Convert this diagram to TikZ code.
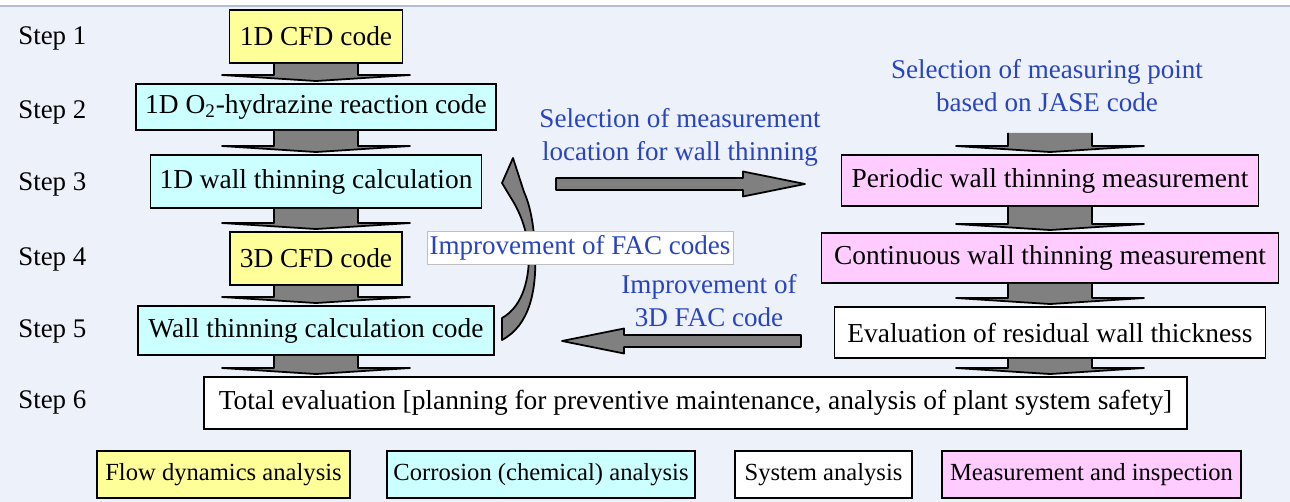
\documentclass[tikz,border=0pt]{standalone}
\usepackage{fontspec}
\setmainfont{Liberation Serif}
\usetikzlibrary{calc}
\definecolor{bgblue}{RGB}{237,241,249}
\definecolor{rimblue}{RGB}{176,190,214}
\definecolor{flowyel}{RGB}{255,255,153}
\definecolor{corrcyan}{RGB}{204,255,255}
\definecolor{measpink}{RGB}{255,204,255}
\definecolor{noteblue}{RGB}{40,68,192}
\definecolor{arrgray}{RGB}{128,128,128}
\tikzset{
  box/.style={draw=black, line width=1.1pt, inner sep=0pt, font=\fontsize{15.6}{18}\selectfont},
  flowbox/.style={box, fill=flowyel},
  corrbox/.style={box, fill=corrcyan},
  sysbox/.style={box, fill=white},
  measbox/.style={box, fill=measpink},
  keybox/.style={box, minimum height=9.4mm, font=\fontsize{14}{16}\selectfont},
  steplbl/.style={anchor=west, inner sep=0pt, font=\fontsize{15.3}{18}\selectfont},
  note/.style={text=noteblue, align=center, inner sep=0pt, font=\fontsize{15.4}{18.7}\selectfont},
  blockarrow/.style={fill=arrgray, draw=black, line width=1pt, line join=round}
}
% wide flat block arrow pointing down, #1 = top of shaft, #2 = tip
\newcommand\flowdown[2]{%
  \filldraw[blockarrow] let \p1=(#1), \p2=(#2) in
    (\x1-8.4mm,\y1) -- (\x1-8.4mm,\y2+1.6mm) -- (\x1-18.8mm,\y2+1.6mm) -- (\x1,\y2+0.4mm)
    -- (\x1+18.8mm,\y2+1.6mm) -- (\x1+8.4mm,\y2+1.6mm) -- (\x1+8.4mm,\y1);}
% horizontal block arrow, #1 = tail, #2 = tip
\newcommand\flowside[2]{%
  \filldraw[blockarrow] let \p1=(#1), \p2=(#2), \n1={sign(\x2-\x1)} in
    (\x1,\y1-1.2mm) -- (\x2-\n1*12.4mm,\y1-1.2mm) -- (\x2-\n1*12.4mm,\y1-2.5mm) -- (\x2,\y1)
    -- (\x2-\n1*12.4mm,\y1+2.5mm) -- (\x2-\n1*12.4mm,\y1+1.2mm) -- (\x1,\y1+1.2mm) -- cycle;}
\begin{document}
\begin{tikzpicture}[x=0.2mm, y=-0.2mm]
\useasboundingbox (0,0) rectangle (1290,502);
\fill[white] (0,0) rectangle (1290,502);
\fill[bgblue] (0,7) rectangle (1290,502);
\draw[rimblue, line width=1pt] (0,6) -- (1290,6);

% step labels
\foreach \i/\y in {1/38,2/112,3/184,4/259,5/331,6/402}
  \node[steplbl] (s\i) at (18,\y) {Step \i};

% analysis column
\node[flowbox, minimum width=34.6mm, minimum height=10.6mm] (b1) at (316,36.5) {1D CFD code};
\node[corrbox, minimum width=72mm, minimum height=9.2mm] (b2) at (316,107) {1D O\textsubscript{2}-hydrazine reaction code};
\node[corrbox, minimum width=66.2mm, minimum height=10.6mm] (b3) at (316,181.5) {1D wall thinning calculation};
\node[flowbox, minimum width=34.4mm, minimum height=10.6mm] (b4) at (316,258.5) {3D CFD code};
\node[corrbox, minimum width=71.2mm, minimum height=9.8mm] (b5) at (316,330.5) {Wall thinning calculation code};
\node[sysbox, minimum width=196.6mm, minimum height=10.4mm] (b6) at (695.5,403) {Total evaluation [planning for preventive maintenance, analysis of plant system safety]};

% measurement column
\node[note] (selpt) at (1047,86) {Selection of measuring point\\based on JASE code};
\coordinate (mtop) at (1050,133);
\node[measbox, minimum width=83.4mm, minimum height=10.2mm] (b7) at (1050,180.5) {Periodic wall thinning measurement};
\node[measbox, minimum width=91.4mm, minimum height=10mm] (b8) at (1050,258) {Continuous wall thinning measurement};
\node[sysbox, minimum width=86.2mm, minimum height=10.2mm] (b9) at (1050,332.5) {Evaluation of residual wall thickness};

% vertical flow
\foreach \a/\b in {b1/b2,b2/b3,b3/b4,b4/b5,mtop/b7,b7/b8,b8/b9}
  \flowdown{\a.south}{\b.north};
\flowdown{b5.south}{b6.north -| b5.south}
\flowdown{b9.south}{b6.north -| b9.south}

% exchange between the columns
\node[note] (selloc) at (680,137) {Selection of measurement\\location for wall thinning};
\coordinate (locfrom) at (556,184);
\coordinate (locto) at (805,184);
\flowside{locfrom}{locto}
\node[note] (imp3d) at (709,301) {Improvement of\\3D FAC code};
\coordinate (fbfrom) at (801,341);
\coordinate (fbto) at (562,341);
\flowside{fbfrom}{fbto}

% feedback loop
\filldraw[blockarrow] (502,340) .. controls (530,325) and (537,290) .. (535,250)
  .. controls (534,225) and (530,205) .. (524,192) -- (513,158) -- (502,183) -- (511,198)
  .. controls (522,215) and (528,235) .. (529,255)
  .. controls (529,285) and (520,308) .. (502,318) -- cycle;
\node[note, fill=white, draw=black!25, line width=0.5pt, minimum width=61.2mm, minimum height=6.6mm] (impfac) at (580,247.5) {Improvement of FAC codes};

% legend
\node[keybox, fill=flowyel, minimum width=50.6mm] (k1) at (223.5,474.5) {Flow dynamics analysis};
\node[keybox, fill=corrcyan, minimum width=61.6mm] (k2) at (541,474.5) {Corrosion (chemical) analysis};
\node[keybox, fill=white, minimum width=35.4mm] (k3) at (823.5,474.5) {System analysis};
\node[keybox, fill=measpink, minimum width=59.8mm] (k4) at (1091.5,474.5) {Measurement and inspection};
\end{tikzpicture}
\end{document}
